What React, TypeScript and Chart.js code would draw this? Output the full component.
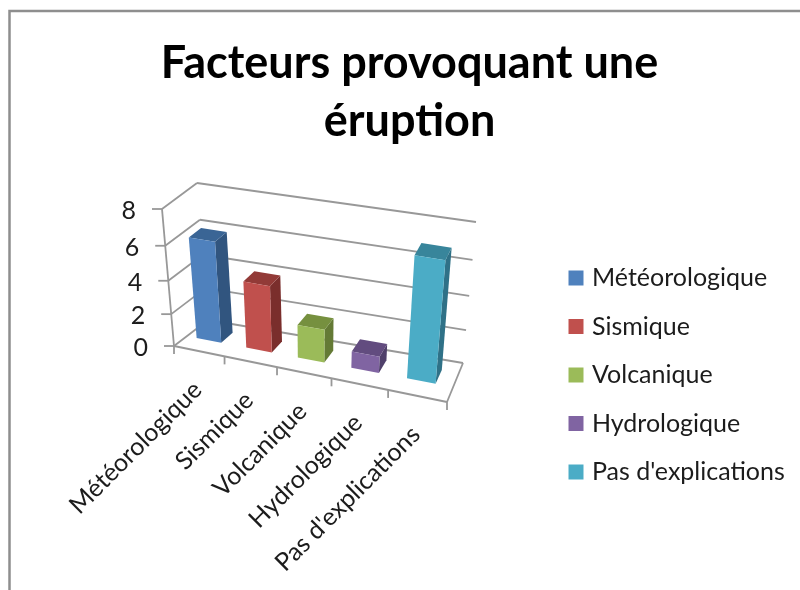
import React, { useEffect, useRef } from "react";
import { Chart, registerables } from "chart.js";

Chart.register(...registerables);

const categories = ["Météorologique", "Sismique", "Volcanique", "Hydrologique", "Pas d'explications"];
const values = [6, 4, 2, 1, 7];
const titleLines = ["Facteurs provoquant une", "éruption"];
const frontColors = ["#4F81BD", "#C0504D", "#9BBB59", "#8064A2", "#4BACC6"];
const topColors = ["#3A6595", "#923A37", "#76903F", "#624C7F", "#38859B"];
const sideColors = ["#31557F", "#7A2E2C", "#647A35", "#50406B", "#2F7187"];

type P = [number, number];
const A: P = [174, 346], B: P = [447, 402], C: P = [463, 363], D: P = [208, 320];
const E: P = [162, 209], H: P = [460, 257], G: P = [476, 222], F: P = [197, 183];
const warp = (t: number) => t / (1.1 - 0.1 * t);
const mix = (a: P, b: P, t: number): P => [a[0] + (b[0] - a[0]) * t, a[1] + (b[1] - a[1]) * t];
const proj = (u: number, v: number, t: number): P => {
  const a = warp(u), h = warp(t);
  const low = mix(mix(A, B, a), mix(D, C, a), v);
  const high = mix(mix(E, H, a), mix(F, G, a), v);
  return mix(low, high, h);
};

const LINE = "#989898";
const TEXT = "#1c1c1c";

const scene = {
  id: "scene",
  beforeDraw(chart: any) {
    const { ctx, chartArea: area, scales, legend } = chart;
    ctx.save();
    ctx.strokeStyle = "#8e8e8e";
    ctx.lineWidth = 2.5;
    ctx.beginPath();
    ctx.moveTo(800, 11);
    ctx.lineTo(9.5, 11);
    ctx.lineTo(9.5, 590);
    ctx.stroke();
    ctx.restore();

    scales.x._computeLabelArea = () => undefined;
    scales.y._computeLabelArea = () => undefined;
    const xItems = scales.x.getLabelItems(area);
    xItems.forEach((it: any, i: number) => {
      const u = (scales.x.getPixelForTick(i) - area.left) / area.width;
      const p = proj(u, 0, 0);
      it.options.translation = [p[0] - 12, p[1] + 24];
    });
    const yItems = scales.y.getLabelItems(area);
    yItems.forEach((it: any, i: number) => {
      const t = (area.bottom - scales.y.getPixelForTick(i)) / area.height;
      const p = proj(0, 0, t);
      it.options.translation = [p[0] - 26, p[1] + 2];
    });
    if (legend) {
      legend.left = 549;
      legend.right = 800;
      legend.width = 251;
      legend.top = 225;
      legend.bottom = 525;
      legend.height = 300;
    }
  },
  beforeDatasetsDraw(chart: any) {
    const { ctx, chartArea: area, scales } = chart;
    const line = (a: P, b: P) => {
      ctx.beginPath();
      ctx.moveTo(a[0], a[1]);
      ctx.lineTo(b[0], b[1]);
      ctx.stroke();
    };
    ctx.save();
    ctx.strokeStyle = LINE;
    ctx.lineWidth = 1.8;
    scales.y.ticks.forEach((tick: any) => {
      const t = (area.bottom - scales.y.getPixelForValue(tick.value)) / area.height;
      const corner = proj(0, 0, t);
      line([corner[0] - 10, corner[1]], corner);
      line(corner, proj(0, 1, t));
      line(proj(0, 1, t), proj(1, 1, t));
    });
    line(proj(0, 0, 0), proj(0, 0, 1));
    line(proj(0, 0, 0), proj(1, 0, 0));
    line(proj(1, 0, 0), proj(1, 1, 0));
    const n = categories.length;
    for (let i = 0; i <= n; i++) {
      const p = proj(i / n, 0, 0);
      line(p, [p[0], p[1] + 8]);
    }

    const meta = chart.getDatasetMeta(0);
    const poly = (pts: P[], color: string) => {
      ctx.fillStyle = color;
      ctx.beginPath();
      pts.forEach((q, k) => (k ? ctx.lineTo(q[0], q[1]) : ctx.moveTo(q[0], q[1])));
      ctx.closePath();
      ctx.fill();
    };
    const v1 = 0.38, v2 = 0.74, shift = -0.01;
    meta.data.forEach((bar: any, i: number) => {
      const { x, y, base, width } = bar.getProps(["x", "y", "base", "width"], true);
      const u1 = (x - width / 2 - area.left) / area.width + shift;
      const u2 = (x + width / 2 - area.left) / area.width + shift;
      const t = (base - y) / area.height;
      poly([proj(u2, v1, 0), proj(u2, v2, 0), proj(u2, v2, t), proj(u2, v1, t)], sideColors[i]);
      poly([proj(u1, v1, t), proj(u2, v1, t), proj(u2, v2, t), proj(u1, v2, t)], topColors[i]);
      poly([proj(u1, v1, 0), proj(u2, v1, 0), proj(u2, v1, t), proj(u1, v1, t)], frontColors[i]);
    });
    ctx.restore();
    return false;
  },
};

export default function App() {
  const ref = useRef<HTMLCanvasElement>(null);
  useEffect(() => {
    const chart = new Chart(ref.current as HTMLCanvasElement, {
      type: "bar",
      data: {
        labels: categories,
        datasets: [
          { data: values, backgroundColor: frontColors, barPercentage: 0.5, categoryPercentage: 1 },
        ],
      },
      plugins: [scene],
      options: {
        animation: false,
        responsive: false,
        layout: { padding: { left: 19, top: 34, right: 0, bottom: 0 } },
        scales: {
          x: {
            grid: { display: false },
            border: { display: false },
            afterFit: (s: any) => { s.height = 20; },
            ticks: { minRotation: 45, maxRotation: 45, autoSkip: false, color: TEXT, font: { family: "Lato", size: 25 } },
          },
          y: {
            min: 0,
            max: 8,
            grid: { display: false },
            border: { display: false },
            ticks: { stepSize: 2, color: TEXT, font: { family: "Lato", size: 25 } },
          },
        },
        plugins: {
          tooltip: { enabled: false },
          title: {
            display: true,
            text: titleLines,
            color: "#000000",
            font: { family: "Lato", weight: "bold", size: 45, lineHeight: 1.29 },
            padding: { top: 0, bottom: 10 },
          },
          legend: {
            position: "right",
            labels: {
              boxWidth: 7,
              boxHeight: 7,
              padding: 23.5,
              color: TEXT,
              font: { family: "Lato", size: 25 },
              generateLabels: () =>
                categories.map((text, i) => ({ text, fillStyle: frontColors[i], strokeStyle: frontColors[i], lineWidth: 8, index: i, fontColor: TEXT })),
            },
          },
        },
      },
    } as any);
    return () => chart.destroy();
  }, []);
  return (
    <div style={{ position: "absolute", left: 0, top: 0, width: 800, height: 590, background: "#fff" }}>
      <canvas ref={ref} width={800} height={590} style={{ display: "block", filter: "blur(0.4px)" }} />
    </div>
  );
}
